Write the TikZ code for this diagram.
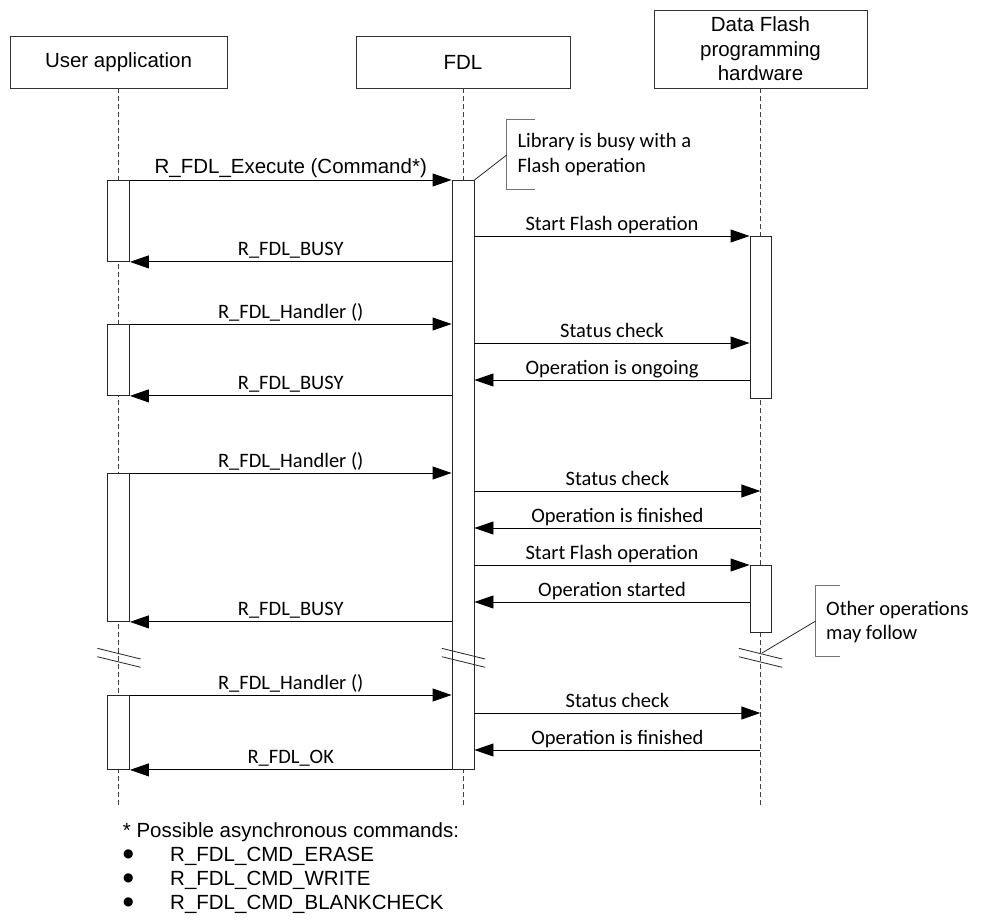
\documentclass[tikz,border=0pt]{standalone}
\usepackage{fontspec}
\setmainfont{Liberation Sans}
\newfontfamily\calib{Carlito}
\newfontfamily\djv{DejaVu Sans}
\usetikzlibrary{arrows.meta}
\newcommand\dsz{\fontsize{20.5pt}{24.6pt}\selectfont}
\newcommand\bsz{\fontsize{12pt}{12pt}\selectfont}
\tikzset{
  hdr/.style={draw=black!80, line width=0.9pt, fill=white, inner sep=0pt, font=\dsz, align=center},
  life/.style={draw=black!75, line width=0.9pt, dash pattern=on 5pt off 3pt},
  bar/.style={draw=black!85, line width=0.9pt, fill=white, minimum width=22pt, inner sep=0pt, anchor=north},
  msg/.style={line width=0.9pt, -{Triangle[length=19pt,width=13pt]}},
  lbl/.style={midway, anchor=base, yshift=6pt, inner sep=0pt, font=\calib\dsz},
  alb/.style={midway, anchor=base, yshift=6pt, inner sep=0pt, font=\dsz},
  notebr/.style={draw=black!55, line width=0.9pt},
  notelink/.style={draw=black!85, line width=0.8pt},
  notetxt/.style={anchor=base west, inner sep=0pt, font=\calib\dsz},
  brkline/.style={draw=black!85, line width=0.8pt},
  foot/.style={anchor=base west, inner sep=0pt, font=\dsz},
  bul/.style={anchor=base west, inner sep=0pt, font=\djv\bsz},
}
\begin{document}
\begin{tikzpicture}[x=1pt, y=-1pt]
\useasboundingbox (0,0) rectangle (982,920);

% lifeline headers
\node[hdr, minimum width=217pt, minimum height=52pt] (ua) at (118.5,62) {User application};
\node[hdr, minimum width=214pt, minimum height=52pt] (fdl) at (463,62) {FDL};
\node[hdr, minimum width=213pt, minimum height=78pt] (df) at (760.5,49) {Data Flash\\programming\\hardware};

% lifeline ends
\coordinate (ual) at (118.7,807);
\coordinate (fdll) at (463.3,807);
\coordinate (dfl) at (760.3,807);
\draw[life] (ua.south -| ual) -- (ual);
\draw[life] (fdl.south -| fdll) -- (fdll);
\draw[life] (df.south -| dfl) -- (dfl);

% activation bars
\node[bar, minimum height=81pt] (ub1) at (118.5,180) {};
\node[bar, minimum height=71pt] (ub2) at (118.5,324) {};
\node[bar, minimum height=148pt] (ub3) at (118.5,473) {};
\node[bar, minimum height=74pt] (ub4) at (118.5,695) {};
\node[bar, minimum height=589pt] (fb) at (463,180) {};
\node[bar, minimum height=162pt, minimum width=21pt] (db1) at (760.5,236) {};
\node[bar, minimum height=67pt, minimum width=21pt] (db2) at (760.5,565) {};

% messages
\draw[msg] (ub1.north east) -- (fb.north west) node[alb] {R\_FDL\_Execute (Command*)};
\draw[msg] (fb.east |- db1.north west) -- (db1.north west) node[lbl] {Start Flash operation};
\draw[msg] (fb.west |- ub1.south east) -- (ub1.south east) node[lbl] {R\_FDL\_BUSY};

\draw[msg] (ub2.north east) -- (fb.west |- ub2.north east) node[lbl] {R\_FDL\_Handler ()};
\draw[msg] (fb.east |- 0,343) -- (db1.west |- 0,343) node[lbl] {Status check};
\draw[msg] (db1.west |- 0,380) -- (fb.east |- 0,380) node[lbl] {Operation is ongoing};
\draw[msg] (fb.west |- ub2.south east) -- (ub2.south east) node[lbl] {R\_FDL\_BUSY};

\draw[msg] (ub3.north east) -- (fb.west |- ub3.north east) node[lbl] {R\_FDL\_Handler ()};
\draw[msg] (fb.east |- 0,491) -- (dfl |- 0,491) node[lbl] {Status check};
\draw[msg] (dfl |- 0,528) -- (fb.east |- 0,528) node[lbl] {Operation is finished};
\draw[msg] (fb.east |- db2.north west) -- (db2.north west) node[lbl] {Start Flash operation};
\draw[msg] (db2.west |- 0,602) -- (fb.east |- 0,602) node[lbl] {Operation started};
\draw[msg] (fb.west |- ub3.south east) -- (ub3.south east) node[lbl] {R\_FDL\_BUSY};

\draw[msg] (ub4.north east) -- (fb.west |- ub4.north east) node[lbl] {R\_FDL\_Handler ()};
\draw[msg] (fb.east |- 0,713) -- (dfl |- 0,713) node[lbl] {Status check};
\draw[msg] (dfl |- 0,750) -- (fb.east |- 0,750) node[lbl] {Operation is finished};
\draw[msg] (fb.south west) -- (ub4.south east) node[lbl] {R\_FDL\_OK};

% break marks
\foreach \bx/\bn in {119/ubk, 463.5/fbk, 760.5/dbk}{
  \coordinate (\bn) at (\bx,657.8);
  \draw[brkline] ([shift={(-21.7,-9.5)}]\bn) -- ([shift={(21.7,1.2)}]\bn);
  \draw[brkline] ([shift={(-21.7,-1.1)}]\bn) -- ([shift={(21.7,9.5)}]\bn);
}

% note 1
\draw[notebr] (535,119) -- (506.7,119) -- (506.7,189.7) -- (535,189.7);
\coordinate (n1p) at (506.7,155);
\draw[notelink] (n1p) -- (fb.north east);
\node[notetxt] (n1a) at (517.3,147.7) {Library is busy with a};
\node[notetxt] (n1b) at (517.3,172.3) {Flash operation};

% note 2
\draw[notebr] (840,585) -- (815.7,585) -- (815.7,656) -- (840,656);
\coordinate (n2p) at (815.7,621);
\coordinate (n2q) at (762,653);
\draw[notelink] (n2p) -- (n2q);
\node[notetxt] (n2a) at (826,615) {Other operations};
\node[notetxt] (n2b) at (826,639.5) {may follow};

% footnote
\node[foot] (ft) at (122.7,837.3) {* Possible asynchronous commands:};
\node[bul] (b1) at (123,857.6) {●};
\node[bul] (b2) at (123,881.6) {●};
\node[bul] (b3) at (123,905.6) {●};
\node[foot] (c1) at (170,861) {R\_FDL\_CMD\_ERASE};
\node[foot] (c2) at (170,885) {R\_FDL\_CMD\_WRITE};
\node[foot] (c3) at (170,909) {R\_FDL\_CMD\_BLANKCHECK};
\end{tikzpicture}
\end{document}
